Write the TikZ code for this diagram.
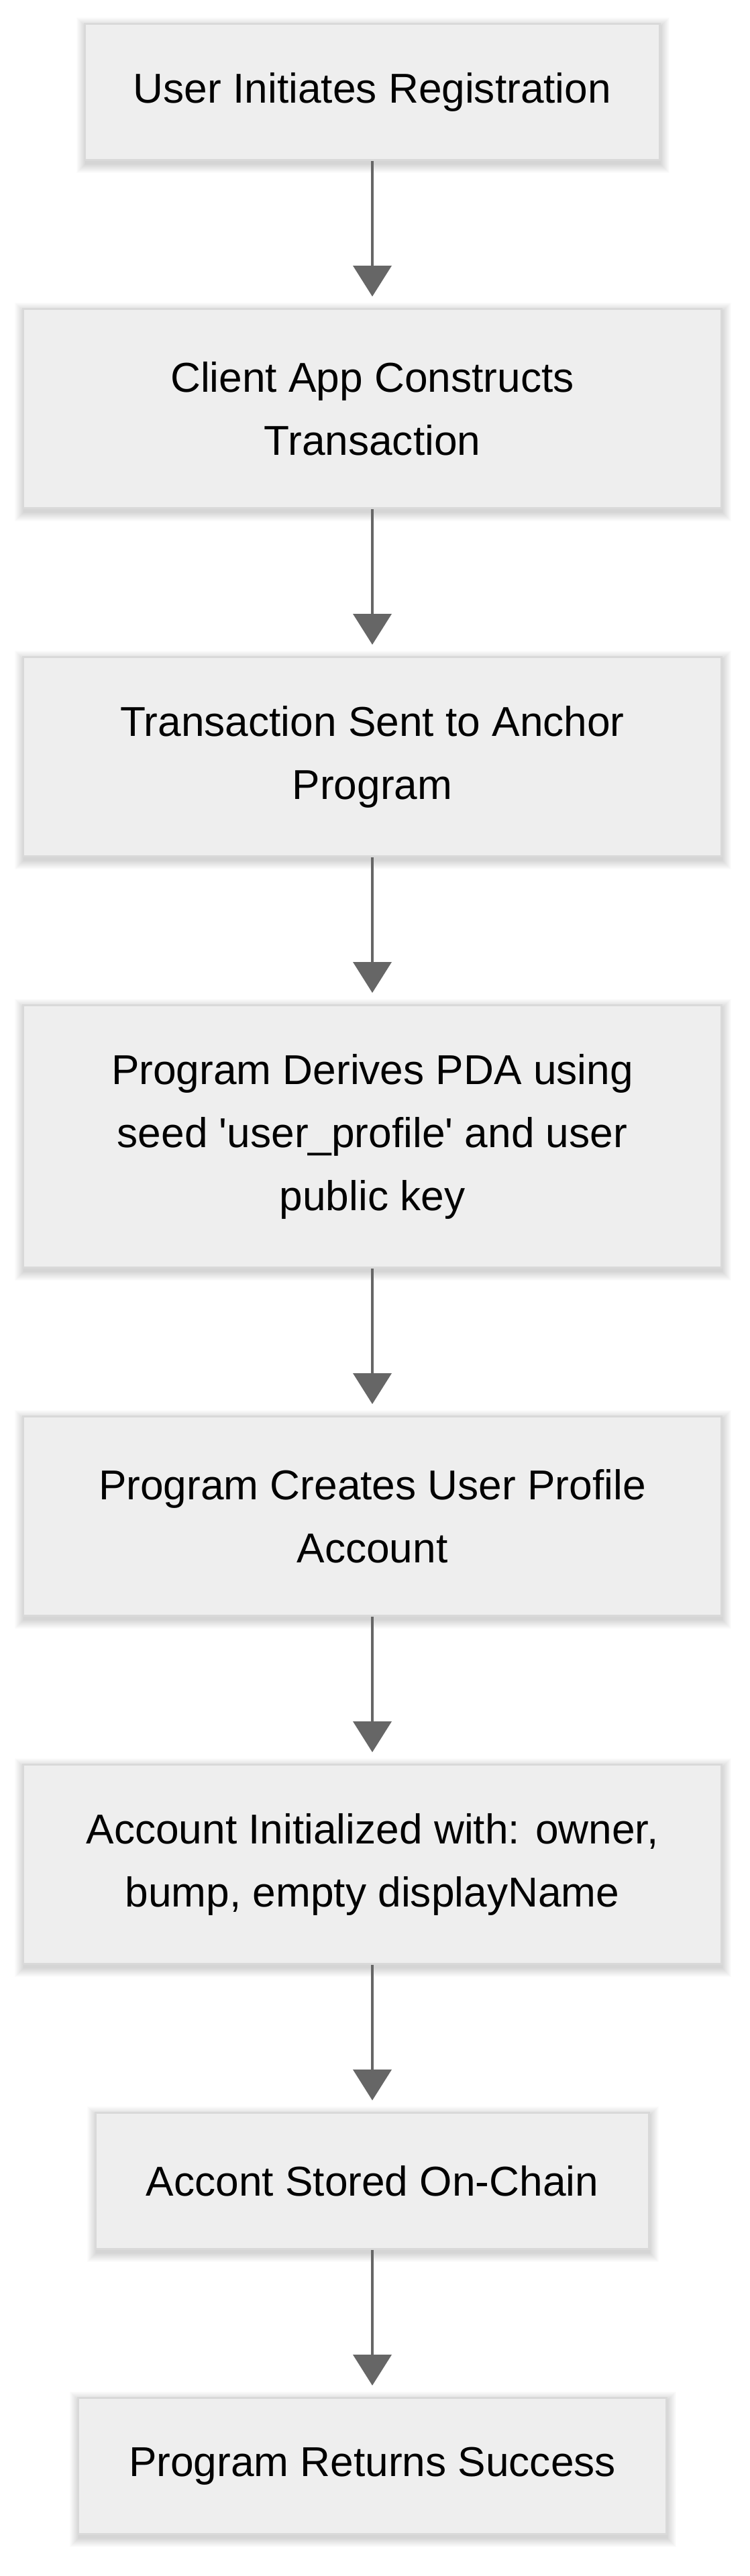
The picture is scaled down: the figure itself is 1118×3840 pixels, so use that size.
\documentclass[tikz,border=0pt]{standalone}
\usepackage{fontspec}
\setmainfont{Liberation Sans}
\usetikzlibrary{arrows.meta}
\definecolor{boxfill}{HTML}{EEEEEE}
\definecolor{boxline}{HTML}{D9D9D9}
\definecolor{arrowgray}{HTML}{666666}
\tikzset{
  stepbox/.style={draw=boxline, fill=boxfill, line width=3pt, inner sep=0pt,
    align=center, text=black, font=\fontsize{62.2}{94}\selectfont},
  flowarrow/.style={draw=arrowgray, line width=4pt,
    -{Triangle[length=46pt, width=57pt, fill=arrowgray]}}
}
% #1 name, #2 cx, #3 cy, #4 outer width, #5 outer height, #6 text
\newcommand{\flowstep}[6]{%
  \foreach \k in {1,...,14} {
    \fill[black, opacity=0.011] ({#2-#4/2-\k+3},{#3-#5/2+6-\k}) rectangle ({#2+#4/2+\k-1},{#3+#5/2+4+\k});
  }
  \node[stepbox, minimum width={(#4-3)*1pt}, minimum height={(#5-3)*1pt}] (#1) at (#2,#3) {#6};
}
\begin{document}
\begin{tikzpicture}[x=1pt, y=-1pt]
\useasboundingbox[fill=white] (0,0) rectangle (1118,3840);
\flowstep{b1}{555}{137}{860}{206}{User Initiates Registration}
\flowstep{b2}{555}{609}{1044}{300}{Client App Constructs\\Transaction}
\flowstep{b3}{555}{1128}{1044}{300}{Transaction Sent to Anchor\\Program}
\flowstep{b4}{555}{1694}{1044}{394}{Program Derives PDA using\\seed \textquotesingle user\_profile\textquotesingle\ and user\\public key}
\flowstep{b5}{555}{2260}{1044}{300}{Program Creates User Profile\\Account}
\flowstep{b6}{555}{2779}{1044}{300}{Account Initialized with: owner,\\bump, empty displayName}
\flowstep{b7}{555}{3251}{828}{206}{Accont Stored On-Chain}
\flowstep{b8}{555}{3676}{880}{206}{Program Returns Success}
\draw[flowarrow] (b1.south) -- ([yshift=17pt]b2.north);
\draw[flowarrow] (b2.south) -- ([yshift=17pt]b3.north);
\draw[flowarrow] (b3.south) -- ([yshift=17pt]b4.north);
\draw[flowarrow] (b4.south) -- ([yshift=17pt]b5.north);
\draw[flowarrow] (b5.south) -- ([yshift=17pt]b6.north);
\draw[flowarrow] (b6.south) -- ([yshift=17pt]b7.north);
\draw[flowarrow] (b7.south) -- ([yshift=17pt]b8.north);
\end{tikzpicture}
\end{document}
